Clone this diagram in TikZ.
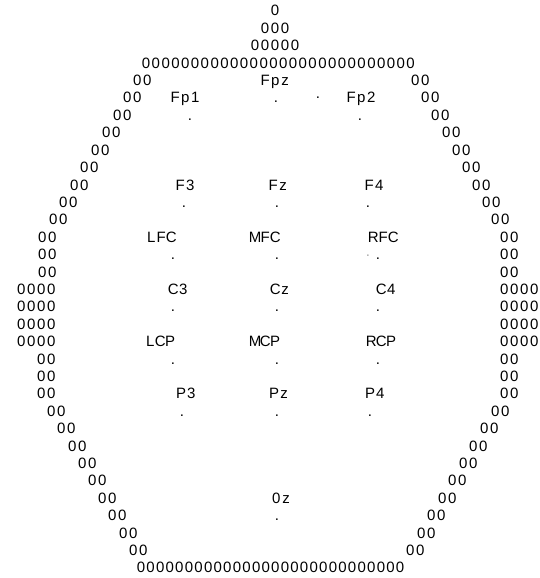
\documentclass[tikz,border=0pt]{standalone}
\usepackage{fontspec}
\setmainfont{Liberation Sans}
\newlength\chpitch
\setlength\chpitch{10pt}
% one printer cell per character
\newcommand\spaced[1]{\spacedstep#1\relax}
\def\spacedstep#1{\ifx#1\relax\else\makebox[\chpitch]{#1}\expandafter\spacedstep\fi}
\newcommand\rowy[1]{16+(#1-1)*17.4}
\definecolor{faintgray}{RGB}{170,170,170}

\begin{document}
\begin{tikzpicture}[x=1pt, y=-1pt,
    txt/.style={inner sep=0pt, anchor=base west, font=\fontsize{15}{17}\selectfont},
    elec/.style={txt, anchor=base}]
\useasboundingbox (0,0) rectangle (539,578);

% head outline
\node[elec] (top1) at (275,{\rowy{1}}) {\spaced{0}};
\node[elec] (top2) at (275,{\rowy{2}}) {\spaced{000}};
\node[elec] (top3) at (275,{\rowy{3}}) {\spaced{00000}};
\node[txt] (top4) at (141,{\rowy{4}}) {\setlength\chpitch{9.8pt}\spaced{0000000000000000000000000000}};
\foreach \r/\x/\s in {5/132/00, 6/122/00, 7/112/00, 8/101/00, 9/90/00, 10/79/00,
    11/69/00, 12/58/00, 13/48/00, 14/37/00, 15/37/00, 16/37/00,
    17/16/0000, 18/16/0000, 19/16/0000, 20/16/0000, 21/36/00, 22/36/00, 23/36/00,
    24/46/00, 25/56/00, 26/67/00, 27/77/00, 28/87/00, 29/97/00, 30/107/00,
    31/118/00, 32/128/00}
  \node[txt] (L\r) at (\x,{\rowy{\r}}) {\expandafter\spaced\expandafter{\s}};
\foreach \r/\x/\s in {5/410/00, 6/420/00, 7/430/00, 8/441/00, 9/451/00, 10/461/00,
    11/471/00, 12/481/00, 13/490/00, 14/499/00, 15/499/00, 16/499/00,
    17/499/0000, 18/499/0000, 19/499/0000, 20/499/0000, 21/499/00, 22/499/00, 23/499/00,
    24/490/00, 25/479/00, 26/468/00, 27/458/00, 28/447/00, 29/437/00, 30/426/00,
    31/416/00, 32/405/00}
  \node[txt] (R\r) at (\x,{\rowy{\r}}) {\expandafter\spaced\expandafter{\s}};
\node[txt] (bot) at (136,{\rowy{33}}) {\setlength\chpitch{9.6pt}\spaced{0000000000000000000000000000}};

% electrode labels
\node[txt] (fpz) at (260,{\rowy{5}}) {\spaced{Fpz}};
\node[txt] (fp1) at (170,{\rowy{6}}) {\spaced{Fp1}};
\node[txt] (fp2) at (346,{\rowy{6}}) {\spaced{Fp2}};
\foreach \n/\t/\x in {f3/F3/175, fz/Fz/268, f4/F4/364}
  \node[txt] (\n) at (\x,{\rowy{11}}) {\expandafter\spaced\expandafter{\t}};
\foreach \n/\t/\x in {lfc/LFC/146, mfc/MFC/250, rfc/RFC/368}
  \node[txt] (\n) at (\x,{\rowy{14}}) {\expandafter\spaced\expandafter{\t}};
\foreach \n/\t/\x in {c3/C3/168, cz/Cz/270, c4/C4/376}
  \node[txt] (\n) at (\x,{\rowy{17}}) {\expandafter\spaced\expandafter{\t}};
\foreach \n/\t/\x in {lcp/LCP/145, mcp/MCP/250, rcp/RCP/366}
  \node[txt] (\n) at (\x,{\rowy{20}}) {\expandafter\spaced\expandafter{\t}};
\foreach \n/\t/\x in {p3/P3/176, pz/Pz/269, p4/P4/365}
  \node[txt] (\n) at (\x,{\rowy{23}}) {\expandafter\spaced\expandafter{\t}};
\node[txt] (oz) at (271,{\rowy{29}}) {\spaced{0z}};

% electrode points
\node[elec] (fpzd) at (276,{\rowy{6}}) {.};
\node[elec] (fp1d) at (190,{\rowy{7}}) {.};
\node[elec] (fp2d) at (360,{\rowy{7}}) {.};
\foreach \n/\r/\a/\b/\c in {f/12/184/277/368, fc/15/173/277/378, c/18/173/277/378,
    cp/21/173/277/378, p/24/182/277/370} {
  \node[elec] (l\n d) at (\a,{\rowy{\r}}) {.};
  \node[elec] (m\n d) at (\b,{\rowy{\r}}) {.};
  \node[elec] (r\n d) at (\c,{\rowy{\r}}) {.};
}
\node[elec] (ozd) at (277,{\rowy{30}}) {.};
% specks of the print
\node[elec] (speck1) at (318,98) {.};
\node[elec, text=faintgray] (speck2) at (368,256) {.};
\end{tikzpicture}
\end{document}
